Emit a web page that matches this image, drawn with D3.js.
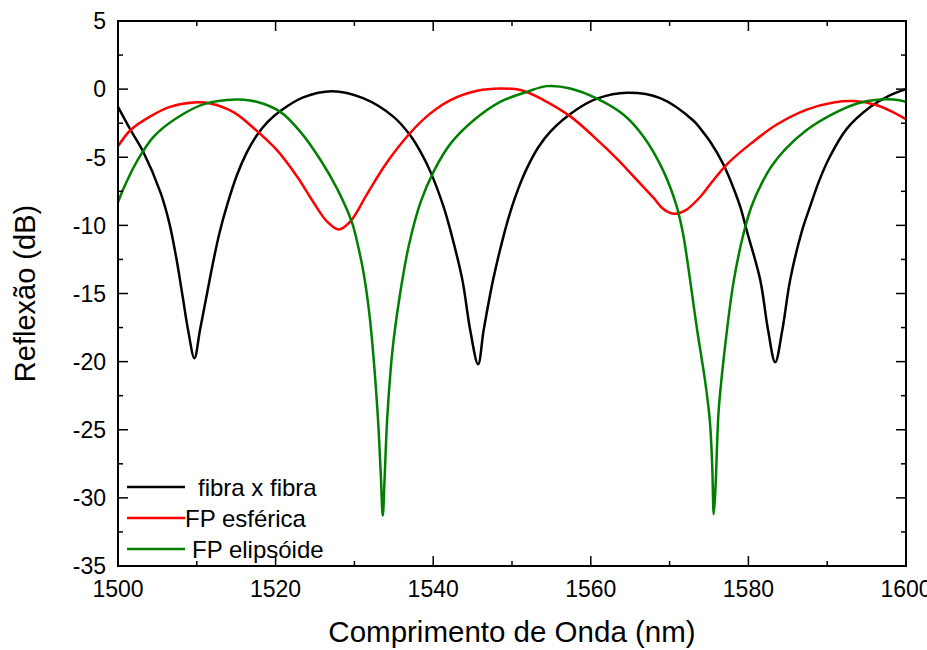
<!DOCTYPE html>
<html>
<head>
<meta charset="utf-8">
<script src="https://cdn.jsdelivr.net/npm/d3@7"></script>
<style>
  body { margin: 0; background: #fff; }
  text { font-family: "Liberation Sans", Arial, sans-serif; }
</style>
</head>
<body>
<div id="chart"></div>
<script>
// [comprimento de onda (nm), reflexão (dB)]
const fibraFibra = [
  [1500, -1.3], [1501.6, -3.0], [1503.2, -4.6], [1505.4, -7.6], [1506.5, -9.8],
  [1507.4, -12.4], [1508.2, -15.2], [1508.9, -17.7], [1509.7, -19.75], [1510.4, -17.7],
  [1511.2, -15.3], [1512.0, -12.9], [1512.9, -10.5], [1513.9, -8.4], [1515.1, -6.3],
  [1516.3, -4.7], [1517.6, -3.4], [1519.0, -2.4], [1520.6, -1.6], [1523.5, -0.6],
  [1527.2, -0.15], [1531.1, -0.66], [1534.9, -2.0], [1537.1, -3.4], [1538.4, -4.6],
  [1539.6, -6.0], [1541.3, -8.6], [1542.2, -10.4], [1543.7, -14.0], [1544.7, -17.7],
  [1545.7, -20.2], [1546.4, -17.7], [1547.6, -14.0], [1549.1, -10.4], [1549.9, -8.8],
  [1550.8, -7.3], [1551.9, -5.8], [1553.3, -4.3], [1554.9, -3.1], [1558.2, -1.5],
  [1560.8, -0.7], [1564.6, -0.27], [1568.8, -0.66], [1573.0, -2.3], [1573.9, -2.9],
  [1575.2, -3.9], [1576.8, -5.5], [1578.2, -7.4], [1579.0, -8.7], [1579.8, -10.4],
  [1581.5, -14.0], [1582.5, -17.7], [1583.4, -20.05], [1584.3, -17.7], [1585.3, -14.0],
  [1586.8, -10.4], [1587.9, -8.5], [1589.0, -6.7], [1590.3, -5.0], [1592.5, -2.9],
  [1595.5, -1.3], [1598.0, -0.44], [1600, 0]
];

const fpEsferica = [
  [1500, -4.2], [1501.6, -3.0], [1504.1, -2.0], [1506.6, -1.3], [1509.6, -0.98],
  [1511.7, -1.05], [1514.7, -1.7], [1517.2, -2.85], [1520.2, -4.5], [1522.7, -6.4],
  [1524.8, -8.3], [1526.5, -9.7], [1528.0, -10.3], [1529.5, -9.7], [1531.6, -7.7],
  [1534.1, -5.4], [1537.1, -3.2], [1539.6, -1.8], [1542.2, -0.8], [1545.6, -0.12],
  [1548.5, 0.05], [1551.1, -0.07], [1554.0, -0.8], [1557.4, -2.0], [1560.4, -3.5],
  [1563.3, -5.1], [1565.9, -6.7], [1568.0, -8.0], [1569.2, -8.8], [1570.5, -9.15],
  [1572.0, -8.9], [1573.9, -7.9], [1575.4, -6.8], [1577.3, -5.5], [1580.3, -4.0],
  [1583.6, -2.6], [1587.4, -1.5], [1590.8, -0.98], [1593.4, -0.88], [1596.3, -1.18],
  [1598.4, -1.7], [1600, -2.2]
];

const fpElipsoide = [
  [1500, -8.3], [1500.7, -7.3], [1501.5, -6.3], [1502.4, -5.3], [1504.5, -3.5],
  [1507.5, -2.1], [1510.9, -1.1], [1513.8, -0.8], [1515.3, -0.76], [1517.6, -0.93],
  [1520.6, -1.67], [1523.1, -3.1], [1525.7, -5.2], [1527.8, -7.3], [1529.7, -9.8],
  [1530.5, -11.6], [1531.2, -13.6], [1531.9, -16.5], [1532.5, -20.2], [1533.0, -24.3],
  [1533.35, -28.3], [1533.6, -31.3], [1533.85, -28.3], [1534.15, -24.3], [1534.6, -20.6],
  [1535.0, -18.3], [1535.8, -15.0], [1536.9, -11.5], [1538.4, -8.3], [1540.1, -6.0],
  [1542.2, -4.0], [1545.1, -2.3], [1548.5, -0.93], [1551.9, -0.2], [1554.4, 0.22],
  [1557.4, 0.05], [1560.8, -0.7], [1564.2, -1.9], [1566.7, -3.5], [1569.2, -6.0],
  [1570.9, -8.6], [1571.7, -10.6], [1572.6, -14.0], [1573.5, -17.7], [1574.5, -21.4],
  [1575.1, -24.3], [1575.4, -27.5], [1575.6, -31.2], [1575.8, -29.5], [1575.9, -28.2],
  [1576.2, -23.8], [1576.6, -21.2], [1577.3, -17.6], [1578.1, -14.2], [1579.3, -10.8],
  [1580.4, -8.6], [1581.7, -6.9], [1583.0, -5.6], [1584.7, -4.4], [1587.4, -3.0],
  [1590.8, -1.8], [1593.8, -1.05], [1596.7, -0.76], [1598.4, -0.76], [1600, -0.93]
];

const seriesNames = ["fibra x fibra", "FP esférica", "FP elipsóide"];
const seriesColors = ["#000000", "#ff0000", "#008000"];
const seriesData = [fibraFibra, fpEsferica, fpElipsoide];

const xMajor = [1500, 1520, 1540, 1560, 1580, 1600];
const xMinor = [1510, 1530, 1550, 1570, 1590];
const yMajor = [5, 0, -5, -10, -15, -20, -25, -30, -35];
const yMinor = [2.5, -2.5, -7.5, -12.5, -17.5, -22.5, -27.5, -32.5];

const W = 927, H = 650;
const M = { top: 21, right: 21, bottom: 84, left: 118 };

const svg = d3.select("#chart").append("svg")
  .attr("width", W).attr("height", H);

const x = d3.scaleLinear().domain([1500, 1600]).range([M.left, W - M.right]);
const y = d3.scaleLinear().domain([-35, 5]).range([H - M.bottom, M.top]);

svg.append("defs").append("clipPath").attr("id", "plot")
  .append("rect")
  .attr("x", M.left).attr("y", M.top)
  .attr("width", W - M.left - M.right).attr("height", H - M.top - M.bottom);

const line = d3.line()
  .x(d => x(d[0]))
  .y(d => y(d[1]))
  .curve(d3.curveCatmullRom.alpha(0.5));

svg.append("g").attr("clip-path", "url(#plot)")
  .selectAll("path")
  .data(seriesData)
  .join("path")
  .attr("fill", "none")
  .attr("stroke", (d, i) => seriesColors[i])
  .attr("stroke-width", 2.5)
  .attr("stroke-linejoin", "round")
  .attr("d", line);

// frame
svg.append("rect")
  .attr("x", M.left).attr("y", M.top)
  .attr("width", W - M.left - M.right).attr("height", H - M.top - M.bottom)
  .attr("fill", "none").attr("stroke", "#000").attr("stroke-width", 2);

// ticks inward on all four sides
function tickSet(g, scale, values, size, side) {
  g.selectAll(null).data(values).join("line")
    .attr("stroke", "#000").attr("stroke-width", 1.5)
    .each(function (v) {
      const s = d3.select(this);
      if (side === "bottom") s.attr("x1", scale(v)).attr("x2", scale(v)).attr("y1", y(-35)).attr("y2", y(-35) - size);
      if (side === "top") s.attr("x1", scale(v)).attr("x2", scale(v)).attr("y1", y(5)).attr("y2", y(5) + size);
      if (side === "left") s.attr("y1", scale(v)).attr("y2", scale(v)).attr("x1", x(1500)).attr("x2", x(1500) + size);
      if (side === "right") s.attr("y1", scale(v)).attr("y2", scale(v)).attr("x1", x(1600)).attr("x2", x(1600) - size);
    });
}
const ticks = svg.append("g");
["bottom", "top"].forEach(s => {
  tickSet(ticks, x, xMajor, 10, s);
  tickSet(ticks, x, xMinor, 5, s);
});
["left", "right"].forEach(s => {
  tickSet(ticks, y, yMajor, 10, s);
  tickSet(ticks, y, yMinor, 5, s);
});

svg.append("g").selectAll("text").data(xMajor).join("text")
  .attr("x", d => x(d)).attr("y", 597)
  .attr("text-anchor", "middle").attr("font-size", 23)
  .text(d => d);

svg.append("g").selectAll("text").data(yMajor).join("text")
  .attr("x", 106).attr("y", d => y(d)).attr("dy", "0.36em")
  .attr("text-anchor", "end").attr("font-size", 23)
  .text(d => d);

svg.append("text")
  .attr("x", (M.left + W - M.right) / 2).attr("y", 642)
  .attr("text-anchor", "middle").attr("font-size", 29.5)
  .text("Comprimento de Onda (nm)");

svg.append("text")
  .attr("transform", `translate(35,${(M.top + H - M.bottom) / 2}) rotate(-90)`)
  .attr("text-anchor", "middle").attr("font-size", 29)
  .text("Reflexão (dB)");

// legend
const legendY = [487, 518, 549];
const legendTextX = [71, 58, 65];
const legend = svg.append("g").selectAll("g").data(seriesNames).join("g")
  .attr("transform", (d, i) => `translate(127,${legendY[i]})`);
legend.append("line")
  .attr("x1", 0).attr("x2", 58)
  .attr("stroke", (d, i) => seriesColors[i]).attr("stroke-width", 2.5);
legend.append("text")
  .attr("x", (d, i) => legendTextX[i]).attr("dy", "0.36em")
  .attr("font-size", 24)
  .text(d => d);
</script>
</body>
</html>
